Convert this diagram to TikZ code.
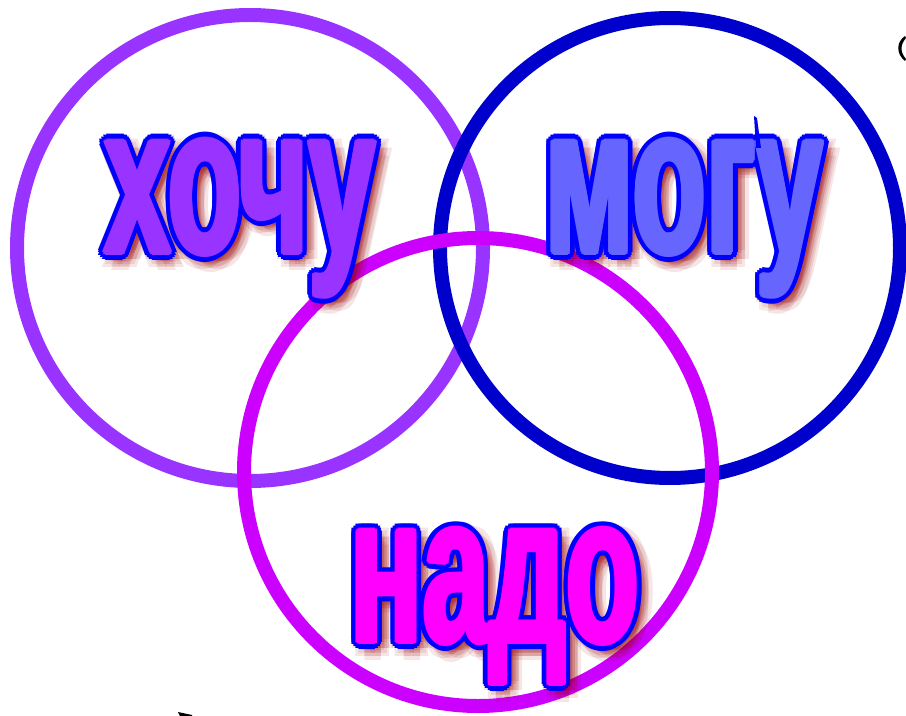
\documentclass[tikz,border=0pt]{standalone}
\usepackage{fontspec}
\usetikzlibrary{calc}
\newfontfamily\wordfont[FakeStretch=0.57]{Liberation Sans Bold}
\definecolor{ringA}{HTML}{9933FF}
\definecolor{ringB}{HTML}{0000CC}
\definecolor{ringC}{HTML}{CC00FF}
\definecolor{fillA}{HTML}{9933FF}
\definecolor{fillB}{HTML}{6666FF}
\definecolor{fillC}{HTML}{FF00FF}
\definecolor{edgeblue}{HTML}{0000FF}
\definecolor{shade}{HTML}{990000}
\tikzset{
  ring/.style={line width=0.28cm},
  word/.style={font=\wordfont\fontsize{120}{122}\selectfont,inner sep=0pt,anchor=base west}
}
\begin{document}
\begin{tikzpicture}[x=0.02cm,y=-0.02cm]
\useasboundingbox (0,0) rectangle (906,716);
% rings
\draw[ring,ringA] (250,248) circle (233);
\draw[ring,ringB] (670,248) circle (230);
\draw[ring,ringC] (478,472) circle (234);
% words: soft shadow, blue edge, fill
\foreach \name/\px/\py/\col/\txt in {hochu/104/253/fillA/хочу,mogu/545/253/fillB/могу,nado/350/642/fillC/надо}{
  \foreach \r in {4,8,12}{
    \foreach \a in {0,45,...,315}{
      \node[word,text=shade,opacity=0.1] (\name-s\r-\a) at ($(\px,\py)+(\a:\r)+(6,6)$) {\txt};
    }
  }
  \foreach \a in {0,22.5,...,337.5}{
    \node[word,text=edgeblue] (\name-e\a) at ($(\px,\py)+(\a:7)$) {\txt};
  }
  \foreach \a in {0,45,...,315}{
    \node[word,text=\col] (\name-f\a) at ($(\px,\py)+(\a:2.5)$) {\txt};
  }
  \node[word,text=\col] (\name) at (\px,\py) {\txt};
}
% stray marks
\fill[edgeblue] (754,116) -- (757,118) -- (761,148) -- (756,148) -- cycle;
\fill (905,36) .. controls (896,42) and (896,54) .. (905,61) -- (906,59) .. controls (900,52) and (900,45) .. (906,38) -- cycle;
\fill (178,712) -- (192,715) -- (192,716) -- (180,716) -- cycle;
\end{tikzpicture}
\end{document}
